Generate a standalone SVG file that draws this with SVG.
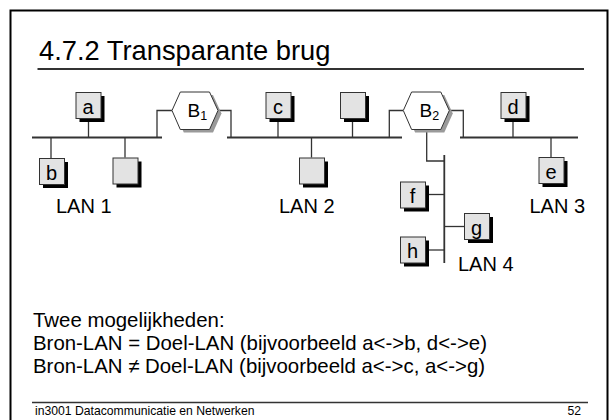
<svg xmlns="http://www.w3.org/2000/svg" width="611" height="420" viewBox="0 0 611 420">
  <style>
    text { font-family: "Liberation Sans", Arial, sans-serif; fill: #000; }
    .title { font-size: 27.3px; }
    .body { font-size: 20.4px; }
    .foot { font-size: 12.2px; }
    .lbl { font-size: 20px; }
    .blbl { font-size: 19px; }
    .node-lbl { font-size: 20px; text-anchor: middle; }
    .sub { font-size: 12.5px; }
    .box { fill: #e3e3e3; stroke: #333; stroke-width: 1; }
    .shadow { fill: #000; }
    .hex { fill: #fff; stroke: #333; stroke-width: 1; }
    .hexshadow { fill: #9a9a9a; }
    .bus { stroke: #333; stroke-width: 1.8; fill: none; }
    .wire { stroke: #333; stroke-width: 1.3; fill: none; }
  </style>
  <defs>
    <g id="station">
      <rect class="shadow" x="4" y="4" width="25" height="26"/>
      <rect class="box" x="0.5" y="0.5" width="25" height="26"/>
    </g>
    <polygon id="hexagon" points="0,18.5 8.3,0 37.5,0 46,18.5 37.5,37.5 8.3,37.5"/>
  </defs>

  <rect width="611" height="420" fill="#fff"/>

  <!-- slide frame, title rule and footer rule -->
  <path d="M10.5,420 V10.5 H607.5 V420" fill="none" stroke="#000" stroke-width="2"/>
  <line x1="37.5" y1="69" x2="584" y2="69" stroke="#333" stroke-width="2"/>
  <line x1="32" y1="402.5" x2="588" y2="402.5" stroke="#333" stroke-width="1.3"/>

  <text class="title" x="39" y="60">4.7.2 Transparante brug</text>

  <!-- connectors: LAN segments, station drops, bridge ports -->
  <g id="connectors">
    <line class="bus" x1="32" y1="137.5" x2="162" y2="137.5"/>
    <line class="bus" x1="227" y1="137.5" x2="402" y2="137.5"/>
    <line class="bus" x1="460" y1="137.5" x2="578" y2="137.5"/>
    <line class="bus" x1="444.3" y1="155" x2="444.3" y2="263"/>

    <line class="wire" x1="88.5" y1="122" x2="88.5" y2="137.5"/>
    <line class="wire" x1="51" y1="137.5" x2="51" y2="158"/>
    <line class="wire" x1="125" y1="137.5" x2="125" y2="157.5"/>
    <line class="wire" x1="278" y1="122" x2="278" y2="137.5"/>
    <line class="wire" x1="311.5" y1="137.5" x2="311.5" y2="157.5"/>
    <line class="wire" x1="352.5" y1="122" x2="352.5" y2="137.5"/>
    <line class="wire" x1="513" y1="122" x2="513" y2="137.5"/>
    <line class="wire" x1="551" y1="137.5" x2="551" y2="157"/>
    <line class="wire" x1="429" y1="194.5" x2="444.3" y2="194.5"/>
    <line class="wire" x1="444.3" y1="226.5" x2="464" y2="226.5"/>
    <line class="wire" x1="429" y1="250" x2="444.3" y2="250"/>

    <polyline class="wire" points="157,137.5 157,110.5 172,110.5"/>
    <polyline class="wire" points="218,110.5 231,110.5 231,137.5"/>
    <polyline class="wire" points="389.3,137.5 389.3,110.5 403.3,110.5"/>
    <polyline class="wire" points="449.3,110.5 463.3,110.5 463.3,137.5"/>
    <polyline class="wire" points="426.7,129.5 426.7,161 444.3,161"/>
  </g>

  <!-- bridges -->
  <g id="B1">
    <use href="#hexagon" class="hexshadow" x="175.5" y="95"/>
    <use href="#hexagon" class="hex" x="172" y="92"/>
    <text class="blbl" x="187.5" y="116.5">B<tspan class="sub" dy="3.3">1</tspan></text>
  </g>
  <g id="B2">
    <use href="#hexagon" class="hexshadow" x="406.8" y="95"/>
    <use href="#hexagon" class="hex" x="403.3" y="92"/>
    <text class="blbl" x="419.5" y="116.5">B<tspan class="sub" dy="3.3">2</tspan></text>
  </g>

  <!-- stations -->
  <g id="a"><use href="#station" x="75.5" y="92"/><text class="node-lbl" x="88" y="113.5">a</text></g>
  <g id="b"><use href="#station" x="39" y="158"/><text class="node-lbl" x="51.5" y="179.5">b</text></g>
  <g id="lan1-host"><use href="#station" x="112.5" y="157.5"/></g>
  <g id="c"><use href="#station" x="265.5" y="92"/><text class="node-lbl" x="278" y="113.5">c</text></g>
  <g id="lan2-host-low"><use href="#station" x="299" y="157.5"/></g>
  <g id="lan2-host-top"><use href="#station" x="340" y="92"/></g>
  <g id="d"><use href="#station" x="500.5" y="92"/><text class="node-lbl" x="513" y="113.5">d</text></g>
  <g id="e"><use href="#station" x="538.5" y="157"/><text class="node-lbl" x="551" y="178.5">e</text></g>
  <g id="f"><use href="#station" x="400" y="181.5"/><text class="node-lbl" x="412.5" y="203">f</text></g>
  <g id="g"><use href="#station" x="464" y="213"/><text class="node-lbl" x="476.5" y="234.5">g</text></g>
  <g id="h"><use href="#station" x="400" y="236.5"/><text class="node-lbl" x="412.5" y="258">h</text></g>

  <!-- segment names -->
  <text class="lbl" x="56" y="213">LAN 1</text>
  <text class="lbl" x="279" y="213">LAN 2</text>
  <text class="lbl" x="529.5" y="213">LAN 3</text>
  <text class="lbl" x="458" y="271">LAN 4</text>

  <!-- explanation -->
  <text class="body" x="33" y="327">Twee mogelijkheden:</text>
  <text class="body" x="33" y="350">Bron-LAN = Doel-LAN (bijvoorbeeld a&lt;-&gt;b, d&lt;-&gt;e)</text>
  <text class="body" x="33" y="372.5">Bron-LAN ≠ Doel-LAN (bijvoorbeeld a&lt;-&gt;c, a&lt;-&gt;g)</text>

  <text class="foot" x="35" y="415">in3001 Datacommunicatie en Netwerken</text>
  <text class="foot" x="581" y="415" text-anchor="end">52</text>
</svg>
